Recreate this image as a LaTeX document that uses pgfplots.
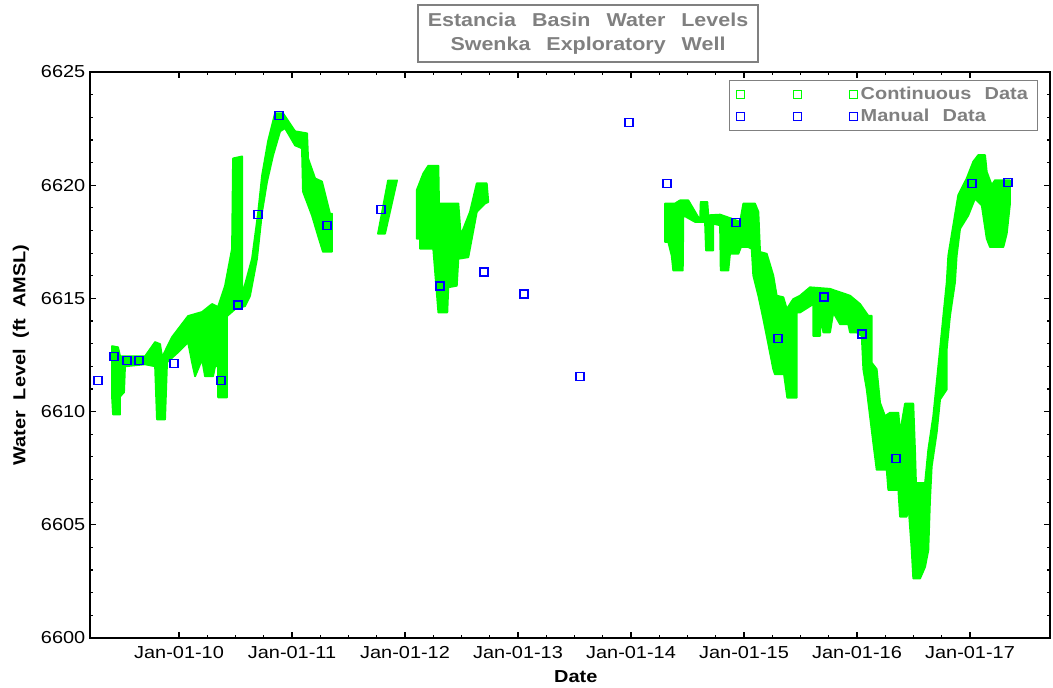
\documentclass[border=0pt]{standalone}
\usepackage{fontspec}
\setmainfont{Liberation Sans}[FakeStretch=1.15]
\usepackage{pgfplots}
\pgfplotsset{compat=1.18}
\definecolor{contgreen}{RGB}{0,255,0}
\definecolor{manblue}{RGB}{0,0,255}
\definecolor{txtgray}{RGB}{128,128,128}
\newcommand{\tgap}{\hspace{12pt}}
\newcommand{\lgap}{\hspace{10pt}}
\newcommand{\ygap}{\hspace{8pt}}

\begin{document}
\begin{tikzpicture}
\begin{axis}[
  scale only axis, width=720pt, height=424.5pt,
  xmin=2009.212, xmax=2017.708, ymin=6600, ymax=6625,
  xtick={2010,2011,2012,2013,2014,2015,2016,2017},
  xticklabels={Jan-01-10,Jan-01-11,Jan-01-12,Jan-01-13,Jan-01-14,Jan-01-15,Jan-01-16,Jan-01-17},
  minor x tick num=3,
  ytick={6600,6605,6610,6615,6620,6625},
  yticklabels={6600,6605,6610,6615,6620,6625},
  minor y tick num=4,
  tick align=inside, major tick length=4.5pt, minor tick length=2.5pt,
  axis line style={line width=1.5pt},
  every tick/.style={black, line width=0.9pt},
  tick label style={font=\fontsize{13}{15}\selectfont},
  xticklabel style={yshift=-3pt},
  xlabel={Date},
  ylabel={Water\ygap Level\ygap (ft\ygap AMSL)},
  label style={font=\fontsize{13}{15}\selectfont\bfseries},
  xlabel style={at={(axis description cs:0.506,-0.069)}, anchor=center},
  ylabel style={at={(axis description cs:-0.072,0.5)}, anchor=center},
  every axis title shift=0pt,
  title={Estancia\tgap Basin\tgap Water\tgap Levels\\Swenka\tgap Exploratory\tgap Well},
  title style={at={(0.51875,1.068)}, anchor=center, draw=txtgray, line width=1.2pt,
    text=txtgray, font=\fontsize{14}{18}\selectfont\bfseries, align=center,
    minimum width=255pt, minimum height=43pt, inner sep=2pt},
  legend style={at={(0.9875,0.986)}, anchor=north east, draw=txtgray, line width=1.1pt,
    text=txtgray, font=\fontsize{13}{14}\selectfont\bfseries,
    inner xsep=5pt, inner ysep=3pt, row sep=1.5pt,
    cells={anchor=west, inner xsep=1pt}},
]
% continuous record, drawn as the outline of the dense marker band
\addplot[fill=contgreen, draw=contgreen, line width=1.4pt, line join=round, forget plot] coordinates {
(2009.407,6612.89) (2009.460,6612.84) (2009.478,6612.44) (2009.699,6612.44) (2009.788,6613.07)
(2009.832,6612.98) (2009.850,6612.40) (2009.938,6613.29) (2010.080,6614.22) (2010.142,6614.31)
(2010.204,6614.40) (2010.292,6614.75) (2010.345,6614.62) (2010.407,6615.55) (2010.469,6617.19)
(2010.478,6621.18) (2010.558,6621.27) (2010.558,6615.42) (2010.566,6615.28) (2010.646,6616.75)
(2010.699,6618.74) (2010.735,6620.43) (2010.788,6621.94) (2010.850,6623.18) (2010.920,6623.18)
(2011.027,6622.38) (2011.133,6622.29) (2011.142,6621.18) (2011.204,6620.30) (2011.265,6620.16)
(2011.336,6618.74) (2011.354,6618.74) (2011.354,6617.06)
(2011.274,6617.06) (2011.230,6617.77) (2011.177,6618.66) (2011.097,6619.72) (2011.088,6621.63)
(2011.027,6621.76) (2010.938,6622.52) (2010.894,6622.38) (2010.832,6621.32) (2010.779,6620.16)
(2010.735,6618.83) (2010.690,6616.75) (2010.628,6615.11) (2010.584,6614.66) (2010.496,6614.53)
(2010.425,6614.22) (2010.425,6610.63) (2010.345,6610.63) (2010.345,6612.00) (2010.319,6612.00)
(2010.301,6611.56) (2010.230,6611.56) (2010.204,6612.31) (2010.142,6611.56) (2010.115,6612.18)
(2010.080,6613.07) (2009.991,6612.62) (2009.894,6612.18) (2009.876,6609.65) (2009.805,6609.65)
(2009.788,6612.00) (2009.699,6612.09) (2009.522,6612.00) (2009.513,6610.85) (2009.478,6610.67)
(2009.478,6609.87) (2009.416,6609.87) (2009.407,6610.67)
} --cycle;
\addplot[fill=contgreen, draw=contgreen, line width=1.4pt, line join=round, forget plot] coordinates {
(2011.761,6617.86) (2011.850,6620.21) (2011.929,6620.21) (2011.823,6617.86)
} --cycle;
\addplot[fill=contgreen, draw=contgreen, line width=1.4pt, line join=round, forget plot] coordinates {
(2012.104,6617.78) (2012.104,6619.78) (2012.162,6620.52) (2012.206,6620.86) (2012.295,6620.86)
(2012.301,6619.19) (2012.472,6619.19) (2012.493,6617.78) (2012.575,6618.82) (2012.635,6620.08)
(2012.723,6620.08) (2012.737,6619.26) (2012.708,6619.19) (2012.635,6618.82) (2012.560,6616.82)
(2012.472,6616.75) (2012.458,6615.56) (2012.383,6615.49) (2012.374,6614.38) (2012.295,6614.38)
(2012.250,6617.19) (2012.133,6617.19) (2012.133,6617.64) (2012.104,6617.64)
} --cycle;
\addplot[fill=contgreen, draw=contgreen, line width=1.4pt, line join=round, forget plot] coordinates {
(2014.301,6617.49) (2014.301,6619.19) (2014.389,6619.19) (2014.434,6619.33) (2014.507,6619.33)
(2014.611,6618.45) (2014.617,6619.26) (2014.675,6619.26) (2014.684,6618.67) (2014.788,6618.70)
(2014.891,6618.52) (2014.965,6618.38) (2014.994,6619.19) (2015.097,6619.19) (2015.127,6618.82)
(2015.142,6617.05) (2015.201,6616.97) (2015.259,6616.01) (2015.289,6615.12) (2015.348,6615.05)
(2015.378,6614.53) (2015.436,6614.97) (2015.496,6615.12) (2015.584,6615.49) (2015.761,6615.42)
(2015.938,6615.12) (2016.027,6614.75) (2016.100,6614.23) (2016.130,6614.23) (2016.130,6612.16)
(2016.174,6611.87) (2016.204,6610.39) (2016.248,6609.80) (2016.292,6609.95) (2016.366,6609.95)
(2016.381,6609.06) (2016.425,6610.35) (2016.498,6610.35) (2016.513,6608.32) (2016.522,6606.84)
(2016.602,6606.84) (2016.631,6608.32) (2016.675,6609.80) (2016.705,6611.28) (2016.735,6612.76)
(2016.764,6614.23) (2016.794,6615.71) (2016.808,6616.89) (2016.852,6618.23) (2016.896,6619.56)
(2016.971,6620.30) (2017.029,6621.04) (2017.073,6621.33) (2017.133,6621.33) (2017.148,6620.59)
(2017.192,6620.00) (2017.221,6620.22) (2017.354,6620.22) (2017.354,6619.19) (2017.325,6617.86)
(2017.295,6617.27) (2017.177,6617.27) (2017.148,6617.64) (2017.104,6619.11) (2017.044,6619.41)
(2016.985,6618.67) (2016.912,6618.08) (2016.882,6616.89) (2016.867,6615.71) (2016.823,6614.23)
(2016.794,6612.76) (2016.794,6610.98) (2016.735,6610.54) (2016.705,6609.06) (2016.661,6607.58)
(2016.646,6606.10) (2016.631,6603.88) (2016.602,6603.14) (2016.558,6602.63) (2016.498,6602.63)
(2016.484,6603.88) (2016.454,6605.95) (2016.440,6605.36) (2016.381,6605.36) (2016.366,6606.54)
(2016.277,6606.54) (2016.263,6607.43) (2016.174,6607.43) (2016.144,6608.62) (2016.115,6609.80)
(2016.086,6610.98) (2016.056,6611.87) (2016.042,6613.34) (2015.997,6613.50) (2015.953,6613.50)
(2015.938,6613.50) (2015.923,6613.86) (2015.850,6613.86) (2015.790,6614.38) (2015.761,6613.50)
(2015.702,6613.50) (2015.679,6614.23) (2015.673,6613.34) (2015.613,6613.34) (2015.613,6614.75)
(2015.496,6614.38) (2015.466,6614.38) (2015.466,6610.61) (2015.383,6610.61) (2015.354,6611.65)
(2015.274,6611.65) (2015.259,6611.87) (2015.201,6613.34) (2015.171,6614.09) (2015.127,6615.12)
(2015.082,6616.01) (2015.068,6617.19) (2015.038,6617.27) (2014.973,6617.27) (2014.950,6616.97)
(2014.876,6616.97) (2014.861,6616.23) (2014.794,6616.23) (2014.788,6618.23) (2014.728,6618.30)
(2014.728,6617.12) (2014.664,6617.12) (2014.655,6618.38) (2014.566,6618.38) (2014.463,6618.67)
(2014.458,6616.23) (2014.374,6616.23) (2014.360,6616.89) (2014.330,6617.49)
} --cycle;
% manual measurements
\addplot[only marks, mark=square, mark size=3pt, draw=manblue,
  mark options={draw=manblue, fill=none, line width=1pt}, forget plot] coordinates {
(2009.283,6611.38) (2009.425,6612.44) (2009.540,6612.27) (2009.646,6612.27) (2009.956,6612.13)
(2010.372,6611.38) (2010.522,6614.71) (2010.699,6618.70) (2010.885,6623.09) (2011.310,6618.21)
(2011.788,6618.92) (2012.310,6615.55) (2012.699,6616.17) (2013.053,6615.20) (2013.549,6611.56)
(2013.982,6622.78) (2014.319,6620.08) (2014.929,6618.35) (2015.301,6613.24) (2015.708,6615.06)
(2016.044,6613.42) (2016.345,6607.92) (2017.018,6620.08) (2017.336,6620.12)
};
\addlegendimage{legend image code/.code={
  \draw[draw=contgreen, line width=0.75pt] (-3pt,-3pt) rectangle (3pt,3pt);
  \draw[draw=contgreen, line width=0.75pt] (39.75pt,-3pt) rectangle (45.75pt,3pt);
  \draw[draw=contgreen, line width=0.75pt] (81.75pt,-3pt) rectangle (87.75pt,3pt);}}
\addlegendentry{Continuous\lgap Data}
\addlegendimage{legend image code/.code={
  \draw[draw=manblue, line width=0.75pt] (-3pt,-3pt) rectangle (3pt,3pt);
  \draw[draw=manblue, line width=0.75pt] (39.75pt,-3pt) rectangle (45.75pt,3pt);
  \draw[draw=manblue, line width=0.75pt] (81.75pt,-3pt) rectangle (87.75pt,3pt);}}
\addlegendentry{Manual\lgap Data}
\end{axis}
\pgfresetboundingbox
\useasboundingbox (-67.5pt,-37.5pt) rectangle (722.25pt,478.5pt);
\end{tikzpicture}
\end{document}
